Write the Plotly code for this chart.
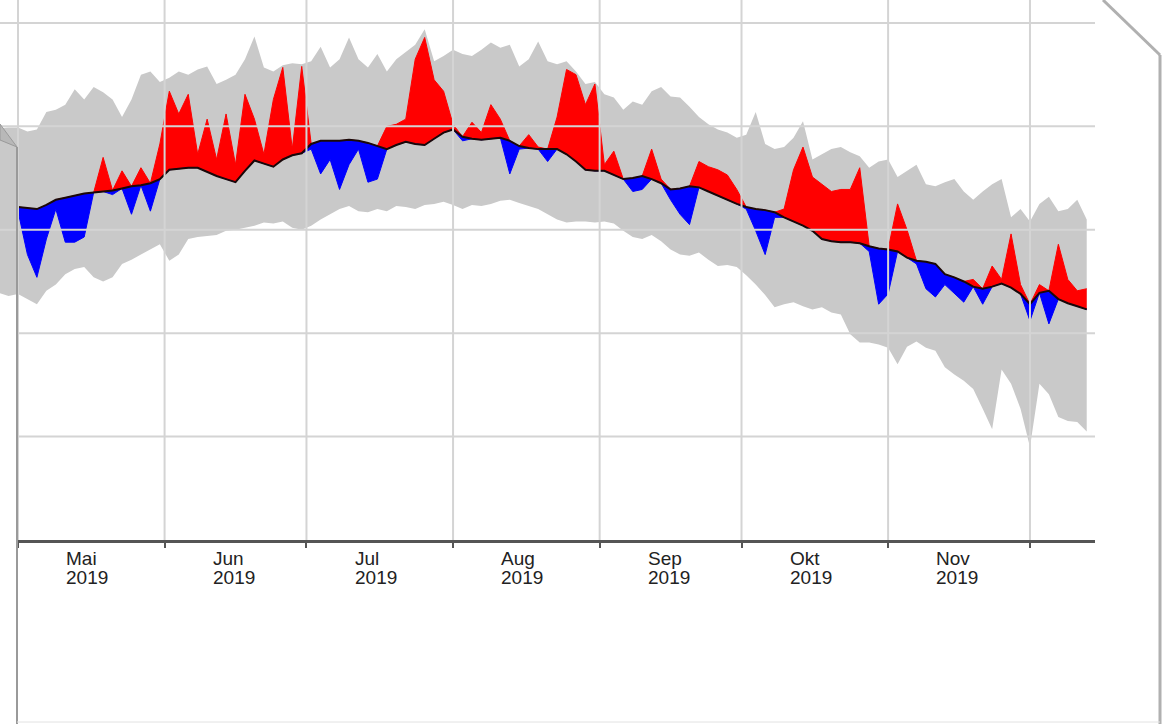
import numpy as np
import pandas as pd
import plotly.graph_objects as go

# ---------------- data (daily temperature, °C, every second day) ----------------
dates = pd.date_range("2019-05-01", periods=114, freq="2D")
lead_dates = pd.to_datetime(["2019-04-27", "2019-04-29"])
band_dates = lead_dates.append(dates)

mean_temp = [12.2, 12.1, 12.0, 12.4, 12.9, 13.1, 13.3, 13.5, 13.6, 13.7,
             13.8, 14.0, 14.2, 14.3, 14.5, 14.9, 15.8, 15.9, 16.0, 16.0,
             15.6, 15.2, 14.9, 14.6, 15.7, 16.7, 16.4, 16.1, 16.8, 17.2,
             17.4, 18.3, 18.6, 18.6, 18.6, 18.7, 18.6, 18.4, 18.1, 17.8,
             18.2, 18.5, 18.3, 18.2, 18.8, 19.4, 19.7, 19.0, 18.8, 18.7,
             18.8, 18.9, 18.6, 18.1, 17.9, 17.8, 17.8, 17.8, 17.3, 16.6,
             15.8, 15.7, 15.7, 15.3, 14.9, 15.0, 15.2, 14.9, 14.5, 13.9,
             14.0, 14.2, 14.1, 13.7, 13.3, 12.9, 12.5, 12.2, 12.0, 11.9,
             11.7, 11.2, 10.8, 10.4, 9.9, 9.1, 8.9, 8.8, 8.8, 8.7,
             8.4, 8.2, 8.1, 7.9, 7.3, 7.0, 6.9, 6.7, 5.7, 5.4,
             5.0, 4.5, 4.3, 4.5, 4.8, 4.4, 3.8, 2.8, 3.9, 4.1,
             3.3, 2.9, 2.6, 2.3]

actual_temp = [11.8, 7.6, 5.4, 9.1, 12.0, 8.8, 8.8, 9.3, 13.6, 17.0,
               13.4, 15.7, 11.5, 16.0, 11.8, 18.3, 23.4, 21.2, 23.1, 17.3,
               20.7, 16.8, 21.2, 16.3, 23.1, 20.7, 17.3, 22.6, 25.7, 17.8,
               25.8, 17.8, 15.4, 16.8, 13.9, 16.3, 17.8, 14.6, 14.9, 20.0,
               20.2, 20.7, 26.5, 28.6, 24.5, 23.4, 20.2, 18.6, 20.4, 19.4,
               22.1, 20.7, 15.4, 17.8, 19.2, 18.0, 16.6, 20.9, 25.5, 25.0,
               22.1, 24.1, 16.3, 17.6, 14.9, 13.7, 13.9, 17.8, 14.9, 12.9,
               11.5, 10.5, 16.6, 16.1, 15.8, 15.3, 13.9, 12.0, 9.9, 7.6,
               11.2, 12.0, 15.8, 18.0, 15.1, 14.4, 13.7, 13.9, 13.9, 16.0,
               7.9, 2.8, 3.8, 12.5, 10.0, 6.7, 4.3, 3.5, 4.7, 3.8,
               3.0, 5.2, 2.8, 6.5, 5.2, 9.6, 4.7, 1.2, 4.7, 0.9,
               8.6, 5.2, 4.1, 4.3]

band_max = [19.8, 19.9,
            19.9, 19.5, 19.7, 21.4, 21.6, 22.1, 23.6, 22.6, 23.8, 23.3,
            22.6, 20.9, 22.6, 25.0, 25.3, 24.3, 24.7, 25.3, 25.0, 25.5,
            25.8, 24.1, 24.5, 25.0, 26.5, 28.7, 25.7, 25.3, 25.9, 26.1,
            26.0, 26.3, 27.7, 25.7, 26.5, 28.6, 26.5, 25.7, 27.0, 25.3,
            26.5, 27.2, 27.9, 29.4, 26.3, 26.8, 27.4, 27.0, 26.8, 27.4,
            28.1, 27.6, 27.9, 25.8, 26.5, 28.2, 26.3, 26.0, 26.3, 25.3,
            24.1, 24.3, 23.1, 22.8, 21.6, 22.4, 22.1, 23.4, 23.8, 22.9,
            22.8, 21.9, 20.9, 20.2, 19.7, 19.4, 18.9, 19.2, 21.4, 18.3,
            17.8, 18.0, 18.9, 20.5, 16.8, 17.3, 17.8, 18.0, 17.5, 17.1,
            16.0, 16.6, 16.8, 15.1, 15.7, 16.3, 14.4, 14.2, 14.6, 14.9,
            13.7, 12.9, 13.7, 14.4, 14.9, 11.2, 12.0, 10.8, 12.5, 13.2,
            11.8, 12.0, 12.9, 11.0]

band_min = [3.9, 3.6,
            3.8, 3.3, 2.8, 4.1, 4.7, 5.7, 6.2, 6.4, 5.4, 5.0,
            5.4, 6.7, 7.1, 7.6, 8.1, 8.6, 7.0, 7.6, 9.1, 9.3,
            9.4, 9.5, 9.9, 10.0, 10.2, 10.4, 10.7, 10.6, 10.8, 10.2,
            10.0, 10.4, 11.0, 11.5, 12.0, 12.3, 11.8, 11.7, 12.0, 11.8,
            12.3, 12.2, 12.0, 12.4, 12.5, 12.7, 12.4, 12.0, 12.4, 12.3,
            12.5, 12.8, 12.9, 12.6, 12.3, 12.0, 11.5, 11.0, 10.7, 10.8,
            10.8, 10.7, 10.8, 10.6, 9.9, 9.3, 9.1, 9.5, 8.9, 8.1,
            7.6, 7.5, 7.8, 7.1, 6.5, 6.6, 6.4, 5.6, 4.7, 3.7,
            2.5, 2.8, 3.0, 2.6, 2.3, 2.5, 2.0, 1.8, -0.1, -0.9,
            -0.9, -1.1, -1.4, -3.0, -1.3, -0.8, -1.4, -1.7, -3.3, -4.0,
            -4.6, -5.4, -7.3, -9.3, -3.5, -4.9, -7.3, -11.0, -4.9, -5.9,
            -8.1, -8.5, -8.6, -9.5]

month_starts = ["2019-05-01", "2019-06-01", "2019-07-01", "2019-08-01",
                "2019-09-01", "2019-10-01", "2019-11-01", "2019-12-01"]
month_names = ["Mai", "Jun", "Jul", "Aug", "Sep", "Okt", "Nov"]
label_dates = ["2019-05-11", "2019-06-11", "2019-07-11", "2019-08-11",
               "2019-09-11", "2019-10-11", "2019-11-11"]
year_label = "2019"
y_grid = [30, 20, 10, 0, -10]

# ---------------- figure ----------------
mean_arr = np.array(mean_temp)
act_arr = np.array(actual_temp)
upper = np.maximum(act_arr, mean_arr)
lower = np.minimum(act_arr, mean_arr)

fig = go.Figure()
fig.add_trace(go.Scatter(x=band_dates, y=band_min, mode="lines",
                         line=dict(width=0, color="#c9c9c9"), hoverinfo="skip"))
fig.add_trace(go.Scatter(x=band_dates, y=band_max, mode="lines",
                         line=dict(width=0, color="#c9c9c9"),
                         fill="tonexty", fillcolor="#c9c9c9", hoverinfo="skip"))
fig.add_trace(go.Scatter(x=dates, y=mean_arr, mode="lines",
                         line=dict(width=0, color="#ff0000"), hoverinfo="skip"))
fig.add_trace(go.Scatter(x=dates, y=upper, mode="lines",
                         line=dict(width=1, color="#ff0000"),
                         fill="tonexty", fillcolor="#ff0000", hoverinfo="skip"))
fig.add_trace(go.Scatter(x=dates, y=mean_arr, mode="lines",
                         line=dict(width=0, color="#0000ff"), hoverinfo="skip"))
fig.add_trace(go.Scatter(x=dates, y=lower, mode="lines",
                         line=dict(width=1, color="#0000ff"),
                         fill="tonexty", fillcolor="#0000ff", hoverinfo="skip"))
fig.add_trace(go.Scatter(x=dates, y=mean_arr, mode="lines",
                         line=dict(width=2, color="#1a0808"), hoverinfo="skip"))

shapes = []
grid_col = "#d4d4d4"
for v in y_grid:
    shapes.append(dict(type="line", xref="paper", yref="y", x0=0, x1=1, y0=v, y1=v,
                       line=dict(color=grid_col, width=2), layer="above"))
for m in month_starts:
    shapes.append(dict(type="line", xref="x", yref="paper", x0=m, x1=m, y0=0, y1=1,
                       line=dict(color=grid_col, width=2), layer="above"))

# paper-sheet frame decoration
W = 1095.0
H = 540.0
def px(x):
    return x / W
def py(y):
    return (H - y) / H

shapes.append(dict(type="rect", xref="paper", yref="paper",
                   x0=px(-2), x1=px(16), y0=py(305), y1=py(730),
                   fillcolor="white", line=dict(width=0), layer="above"))
frame_col = "#9a9a9a"
shapes.append(dict(type="path", xref="paper", yref="paper",
                   path=f"M {px(0)},{py(124)} L {px(17)},{py(147)} L {px(0)},{py(140)} Z",
                   fillcolor="#b8b8b8", line=dict(color=frame_col, width=1), layer="above"))
shapes.append(dict(type="line", xref="paper", yref="paper",
                   x0=px(17), y0=py(147), x1=px(17), y1=py(726),
                   line=dict(color=frame_col, width=2), layer="above"))
shapes.append(dict(type="line", xref="paper", yref="paper",
                   x0=px(1103), y0=py(0), x1=px(1160), y1=py(55),
                   line=dict(color="#b0b0b0", width=3), layer="above"))
shapes.append(dict(type="line", xref="paper", yref="paper",
                   x0=px(1160), y0=py(55), x1=px(1160), y1=py(726),
                   line=dict(color="#b0b0b0", width=3), layer="above"))
shapes.append(dict(type="line", xref="paper", yref="paper",
                   x0=px(17), y0=py(722), x1=px(1160), y1=py(722),
                   line=dict(color="#e2e2e2", width=1), layer="above"))

annotations = []
lab_font = dict(family="Liberation Sans, Arial, sans-serif", size=19, color="#222222")
for d, name in zip(label_dates, month_names):
    annotations.append(dict(x=d, xref="x", y=0, yref="paper", text=name,
                            xanchor="left", yanchor="top", yshift=-7,
                            showarrow=False, font=lab_font, borderpad=0))
    annotations.append(dict(x=d, xref="x", y=0, yref="paper", text=year_label,
                            xanchor="left", yanchor="top", yshift=-26,
                            showarrow=False, font=lab_font, borderpad=0))

fig.update_layout(
    width=1173, height=724,
    margin=dict(l=0, r=78, t=0, b=184),
    paper_bgcolor="white", plot_bgcolor="white",
    showlegend=False,
    shapes=shapes,
    annotations=annotations,
    xaxis=dict(type="date", range=["2019-04-27 04:40", "2019-12-14 18:00"],
               showgrid=False, zeroline=False,
               tickvals=month_starts, ticktext=[""] * len(month_starts),
               showticklabels=False, ticks="outside", ticklen=5, tickwidth=2,
               tickcolor="#555555", showline=True, linecolor="#555555", linewidth=3),
    yaxis=dict(range=[-20, 32.22], showgrid=False, zeroline=False,
               showticklabels=False, showline=False),
)

fig.write_html("out.html", config={"displayModeBar": False},
               post_script="document.body.style.margin='0';document.body.style.overflow='hidden';")
